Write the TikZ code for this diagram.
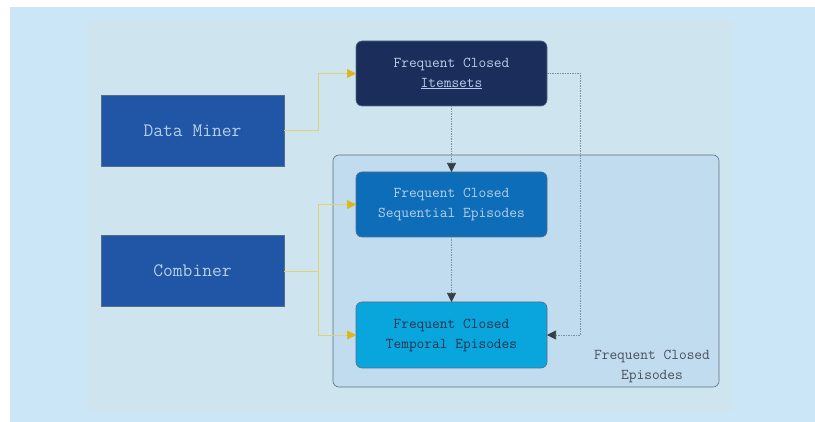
\documentclass[tikz,border=0pt]{standalone}
\usepackage{tikz}
\usetikzlibrary{arrows.meta}
\definecolor{outerbg}{RGB}{203,231,247}
\definecolor{innerbg}{RGB}{206,229,240}
\definecolor{groupfill}{RGB}{193,220,238}
\definecolor{groupedge}{RGB}{95,112,128}
\definecolor{navy}{RGB}{27,45,90}
\definecolor{minerblue}{RGB}{33,85,165}
\definecolor{seqblue}{RGB}{14,109,184}
\definecolor{tempblue}{RGB}{8,166,221}
\definecolor{paletext}{RGB}{182,208,236}
\definecolor{darktext}{RGB}{32,52,80}
\definecolor{labeltext}{RGB}{70,80,90}
\definecolor{boxedge}{RGB}{85,110,135}
\definecolor{feedline}{RGB}{226,208,120}
\definecolor{feedtip}{RGB}{222,182,30}
\definecolor{linkline}{RGB}{125,145,160}
\definecolor{linktip}{RGB}{55,62,72}
\newcommand{\boxfont}{\ttfamily\fontsize{15}{20}\selectfont}
\newcommand{\bigboxfont}{\ttfamily\fontsize{19}{22}\selectfont}
\tikzstyle{block}=[draw=boxedge, line width=0.6pt, inner sep=0, outer sep=0, align=center]
\tikzstyle{sblock}=[block, fill=minerblue, text=paletext, minimum width=183pt, minimum height=71pt, font=\bigboxfont]
\tikzstyle{rblock}=[block, rounded corners=6pt, minimum width=191pt, minimum height=65pt, font=\boxfont]
\tikzstyle{feed}=[draw=feedline, line width=0.6pt, -{Triangle[length=9pt, width=9pt, color=feedtip]}]
\tikzstyle{link}=[draw=linkline, line width=0.6pt, dash pattern=on 1.5pt off 1pt,
                  -{Triangle[length=9pt, width=9pt, color=linktip]}]
\tikzstyle{flowchart}=[x=1pt, y=-1pt]

\begin{document}
\begin{tikzpicture}[flowchart]
    % Backgrounds.
    \useasboundingbox (0, 0) rectangle (815, 422);
    \fill[white] (0, 0) rectangle (815, 422);
    \fill[outerbg] (10, 7) rectangle (815, 422);
    \fill[innerbg] (87, 20) rectangle (734, 412);
    % Group of episodes.
    \node[draw=groupedge, fill=groupfill, line width=0.6pt, rounded corners=6pt, minimum width=386pt, minimum height=232pt, inner sep=0] (episodes) at (526, 271) {};
    \node[text=labeltext, font=\boxfont, align=center, inner sep=0] (eplabel) at (652, 366) {Frequent Closed\\Episodes};
    \node[sblock] (miner) at (192.5, 130.5) {Data Miner};
    \node[sblock] (combiner) at (192.5, 271) {Combiner};
    \node[rblock, fill=navy, text=paletext] (itemsets) at (451.5, 73.5) {Frequent Closed\\\underline{Itemsets}};
    \node[rblock, fill=seqblue, text=paletext] (seqep) at (451.5, 204.5) {Frequent Closed\\Sequential Episodes};
    \node[rblock, fill=tempblue, text=darktext, minimum height=66pt] (tempep) at (451.5, 335) {Frequent Closed\\Temporal Episodes};
    \draw[feed] (miner.east) -- ++(34, 0) |- (itemsets.west);
    \draw[feed] (combiner.east) -- ++(34, 0) |- (seqep.west);
    \draw[feed] (combiner.east) -- ++(34, 0) |- (tempep.west);
    \draw[link] (itemsets.south) -- (seqep.north);
    \draw[link] (seqep.south) -- (tempep.north);
    \draw[link] (itemsets.east) -- ++(33, 0) |- (tempep.east);
\end{tikzpicture}
\end{document}
